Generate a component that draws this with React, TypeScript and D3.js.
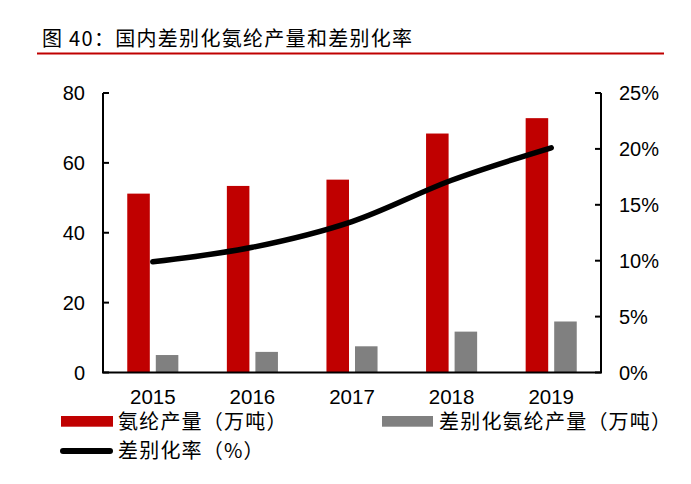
import * as d3 from "d3";

const years = ["2015", "2016", "2017", "2018", "2019"];
const spandexOutput = [51.2, 53.4, 55.2, 68.4, 72.8];
const diffOutput = [5.0, 5.9, 7.5, 11.7, 14.6];
const diffRate = [9.9, 11.2, 13.5, 17.2, 20.1];
const leftTicks = [0, 20, 40, 60, 80];
const rightTicks = [0, 5, 10, 15, 20, 25];

const W = 691;
const H = 484;
const margin = { top: 93, right: 90, bottom: 111.5, left: 103 };
const font = "'Liberation Sans', Arial, 'Noto Sans CJK SC', sans-serif";
const cjk = "'Noto Sans CJK SC', 'Liberation Sans', sans-serif";

export default function App() {
  const x0 = margin.left;
  const x1 = W - margin.right;
  const yTop = margin.top;
  const yBot = H - margin.bottom;

  const xScale = d3.scaleBand().domain(years).range([x0, x1]).padding(0);
  const sub = d3
    .scaleBand()
    .domain(["total", "diff"])
    .range([0, xScale.bandwidth()])
    .paddingInner(0.21)
    .paddingOuter(0.85);
  const yLeft = d3.scaleLinear().domain([0, 80]).range([yBot, yTop]);
  const yRight = d3.scaleLinear().domain([0, 25]).range([yBot, yTop]);

  const line = d3
    .line<number>()
    .x((_, i) => (xScale(years[i]) as number) + xScale.bandwidth() / 2)
    .y((d) => yRight(d))
    .curve(d3.curveMonotoneX);

  return (
    <div style={{ position: "absolute", left: 0, top: 0 }}>
      <svg width={W} height={H} style={{ background: "#fff", display: "block" }}>
        {/* title */}
        <text x={42} y={45.5} fontFamily={cjk} fontSize={20} fill="#000" letterSpacing={1.3}>
          图 40：国内差别化氨纶产量和差别化率
        </text>
        <line x1={37} x2={664} y1={53.5} y2={53.5} stroke="#C00000" strokeWidth={2.2} />

        {/* bars */}
        {years.map((yr, i) => (
          <g key={yr}>
            <rect
              x={(xScale(yr) as number) + (sub("total") as number)}
              y={yLeft(spandexOutput[i])}
              width={sub.bandwidth()}
              height={yBot - yLeft(spandexOutput[i])}
              fill="#C00000"
            />
            <rect
              x={(xScale(yr) as number) + (sub("diff") as number)}
              y={yLeft(diffOutput[i])}
              width={sub.bandwidth()}
              height={yBot - yLeft(diffOutput[i])}
              fill="#808080"
            />
          </g>
        ))}

        {/* rate line */}
        <path
          d={line(diffRate) || ""}
          fill="none"
          stroke="#000"
          strokeWidth={5.5}
          strokeLinecap="round"
          strokeLinejoin="round"
        />

        {/* axes */}
        <g stroke="#000" strokeWidth={2} fill="none">
          <line x1={x0} x2={x0} y1={yTop} y2={yBot} />
          <line x1={x1} x2={x1} y1={yTop} y2={yBot} />
          <line x1={x0 - 1} x2={x1 + 1} y1={yBot} y2={yBot} />
          {leftTicks.map((t) => (
            <line key={"l" + t} x1={x0} x2={x0 + 6} y1={yLeft(t)} y2={yLeft(t)} />
          ))}
          {rightTicks.map((t) => (
            <line key={"r" + t} x1={x1 - 6} x2={x1} y1={yRight(t)} y2={yRight(t)} />
          ))}
        </g>
        {leftTicks.map((t) => (
          <text
            key={"lt" + t}
            x={x0 - 18}
            y={yLeft(t)}
            dy="0.35em"
            textAnchor="end"
            fontFamily={font}
            fontSize={20}
          >
            {t}
          </text>
        ))}
        {rightTicks.map((t) => (
          <text
            key={"rt" + t}
            x={x1 + 18}
            y={yRight(t)}
            dy="0.35em"
            textAnchor="start"
            fontFamily={font}
            fontSize={20}
          >
            {t + "%"}
          </text>
        ))}
        {years.map((yr) => (
          <text
            key={"x" + yr}
            x={(xScale(yr) as number) + xScale.bandwidth() / 2}
            y={403.5}
            textAnchor="middle"
            fontFamily={font}
            fontSize={20.5}
          >
            {yr}
          </text>
        ))}

        {/* legend */}
        <rect x={61} y={416} width={52} height={10.7} fill="#C00000" />
        <text x={118} y={428.5} fontFamily={cjk} fontSize={20} letterSpacing={1.2}>
          氨纶产量（万吨）
        </text>
        <rect x={382} y={416} width={51} height={10.7} fill="#808080" />
        <text x={439} y={428.5} fontFamily={cjk} fontSize={20} letterSpacing={1.2}>
          差别化氨纶产量（万吨）
        </text>
        <line x1={63} x2={110} y1={451} y2={451} stroke="#000" strokeWidth={6} strokeLinecap="round" />
        <text x={118} y={458} fontFamily={cjk} fontSize={20} letterSpacing={1.2}>
          差别化率（%）
        </text>
      </svg>
    </div>
  );
}
